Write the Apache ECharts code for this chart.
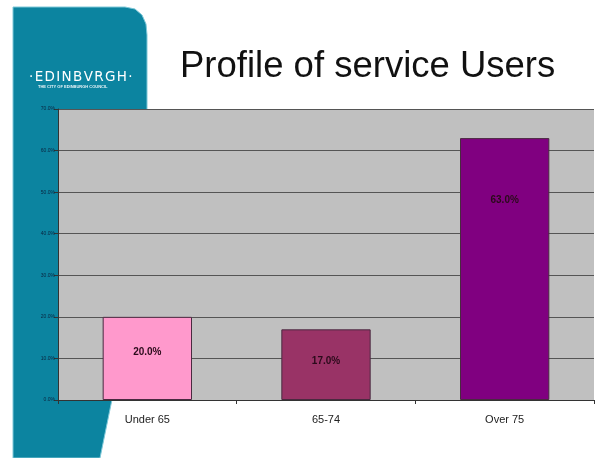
<!DOCTYPE html>
<html>
<head>
<meta charset="utf-8">
<script src="https://cdn.jsdelivr.net/npm/echarts@6/dist/echarts.min.js"></script>
<style>
html,body{margin:0;padding:0;background:#fff;}
#chart{width:602px;height:458px;}
</style>
</head>
<body>
<div id="chart"></div>
<script>
const categories = ['Under 65', '65-74', 'Over 75'];
const values = [20.0, 17.0, 63.0];
const barColors = ['#FF99CC', '#993366', '#800080'];
const labelOffsets = [35, 32, 62];
const titleText = 'Profile of service Users';

const chart = echarts.init(document.getElementById('chart'), null, {renderer: 'canvas'});

const data = values.map((v, i) => ({
  value: v,
  itemStyle: {color: barColors[i]},
  label: {position: ['50%', labelOffsets[i]]}
}));

chart.setOption({
  animation: false,
  backgroundColor: '#ffffff',
  graphic: [
    {
      type: 'polygon',
      z: -10,
      shape: {
        points: [[13,7],[125,7],[135,9],[142,15],[146,24],[147,35],[147,110],[145,170],[140,240],[130,310],[116,380],[100,458],[13,458]]
      },
      style: {fill: '#0C84A0', stroke: '#7FC8D8', lineWidth: 1}
    },
    {
      type: 'text',
      z: 5,
      left: 29, top: 70,
      style: {
        text: '·\u200aE\u200aD\u200aI\u200aN\u200aB\u200aV\u200aR\u200aG\u200aH\u200a·',
        fill: '#ffffff',
        font: '13.5px "DejaVu Sans"'
      }
    },
    {
      type: 'text',
      z: 5,
      left: 38, top: 85,
      style: {
        text: 'THE CITY OF EDINBURGH COUNCIL',
        fill: '#e8f4f8',
        font: 'bold 4px "Liberation Sans"'
      }
    },
    {
      type: 'text',
      z: 5,
      left: 180, top: 48,
      style: {
        text: titleText,
        fill: '#111111',
        font: '36.5px "Liberation Sans"'
      }
    }
  ],
  grid: {
    left: 58, right: 8, top: 109, bottom: 58,
    show: true,
    backgroundColor: '#C0C0C0',
    borderWidth: 0,
    containLabel: false
  },
  xAxis: {
    type: 'category',
    data: categories,
    axisLine: {show: true, lineStyle: {color: '#333333', width: 1}},
    axisTick: {show: true, length: 4, lineStyle: {color: '#333333'}},
    axisLabel: {color: '#222222', fontSize: 11, fontFamily: 'Liberation Sans', margin: 14},
    splitLine: {show: false}
  },
  yAxis: {
    type: 'value',
    min: 0, max: 70, interval: 10,
    axisLine: {show: true, lineStyle: {color: '#333333', width: 1}},
    axisTick: {show: true, length: 4, lineStyle: {color: '#333333'}},
    axisLabel: {
      color: '#0a2540', fontSize: 5, fontFamily: 'Liberation Sans', margin: 3,
      formatter: v => v.toFixed(1) + '%'
    },
    splitLine: {show: true, lineStyle: {color: '#555555', width: 1}}
  },
  series: [{
    type: 'bar',
    data: data,
    barWidth: '50%',
    itemStyle: {borderColor: '#4a2a40', borderWidth: 1},
    label: {
      show: true,
      align: 'center',
      verticalAlign: 'middle',
      color: '#2a0a1a',
      fontSize: 10,
      fontWeight: 'bold',
      fontFamily: 'Liberation Sans',
      formatter: p => p.value.toFixed(1) + '%'
    }
  }]
});
</script>
</body>
</html>
